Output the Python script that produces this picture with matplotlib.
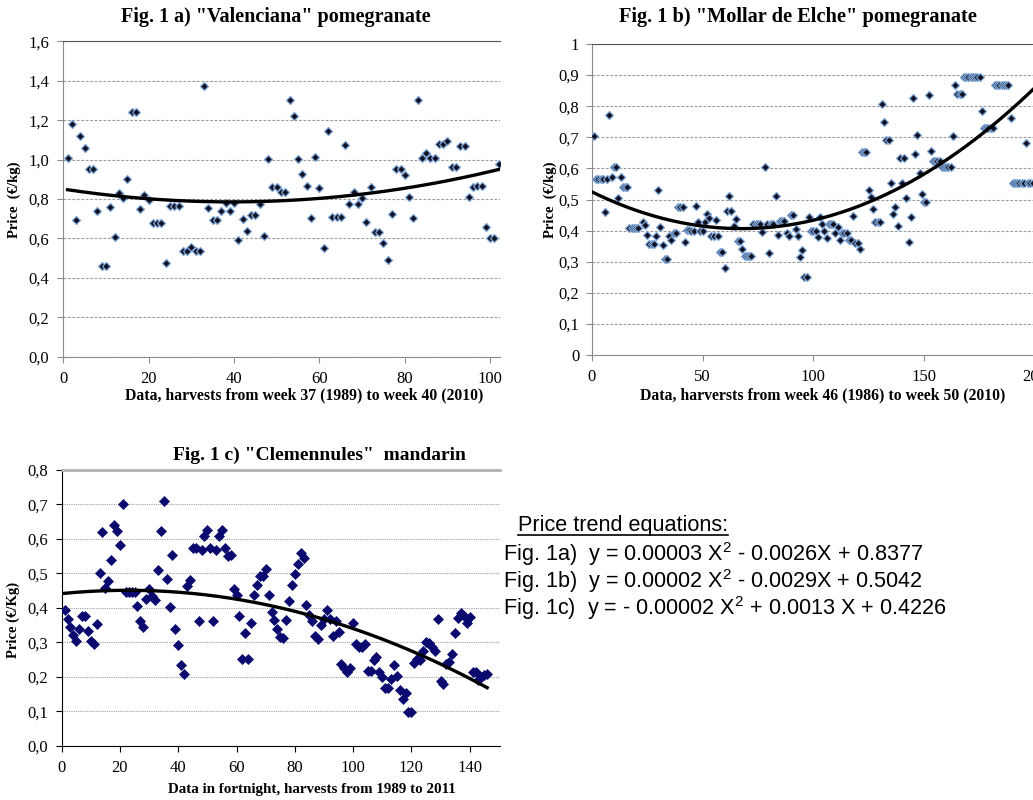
import numpy as np
import matplotlib
matplotlib.use('Agg')
import matplotlib.pyplot as plt
from matplotlib.lines import Line2D
from matplotlib.ticker import FuncFormatter

plt.rcParams['font.family'] = 'Liberation Serif'
plt.rcParams['mathtext.fontset'] = 'custom'
plt.rcParams['mathtext.rm'] = 'Liberation Sans'
plt.rcParams['mathtext.it'] = 'Liberation Sans'
plt.rcParams['mathtext.bf'] = 'Liberation Sans:bold'

### Fig 1a) "Valenciana" pomegranate, weeks 1..102
val_x = list(range(1, 103))
val_y = [1.010, 1.183, 0.694, 1.120, 1.059, 0.953, 0.953, 0.741, 0.460, 0.460,
         0.761, 0.609, 0.829, 0.804, 0.902, 1.239, 1.239, 0.750, 0.819, 0.795,
         0.679, 0.679, 0.679, 0.474, 0.766, 0.766, 0.766, 0.535, 0.535, 0.557,
         0.535, 0.535, 1.374, 0.753, 0.694, 0.694, 0.738, 0.780, 0.738, 0.780,
         0.592, 0.699, 0.636, 0.721, 0.721, 0.775, 0.614, 1.002, 0.860, 0.860,
         0.834, 0.834, 1.300, 1.220, 1.003, 0.926, 0.866, 0.702, 1.013, 0.854,
         0.550, 1.147, 0.709, 0.709, 0.709, 1.073, 0.777, 0.834, 0.777, 0.805,
         0.684, 0.863, 0.633, 0.633, 0.577, 0.491, 0.722, 0.951, 0.951, 0.922,
         0.810, 0.706, 1.303, 1.007, 1.034, 1.007, 1.007, 1.081, 1.081, 1.096,
         0.964, 0.964, 1.069, 1.069, 0.810, 0.863, 0.868, 0.868, 0.656, 0.604,
         0.604, 0.980]

### Fig 1b) "Mollar de Elche" pomegranate
mol_x = [1, 2, 3, 4, 5, 6, 7, 8, 9, 10, 11, 12, 13, 14, 15, 16, 17, 18, 19, 20,
         21, 23, 24, 25, 26, 27, 28, 29, 30, 31, 32, 33, 34, 35, 36, 37, 38, 39, 40, 41,
         42, 43, 44, 45, 46, 47, 48, 49, 50, 51, 52, 53, 54, 55, 56, 57, 58, 59, 60, 61,
         62, 63, 64, 65, 66, 67, 68, 69, 70, 71, 72, 73, 74, 75, 76, 77, 78, 79, 80, 81,
         82, 83, 84, 85, 86, 87, 88, 89, 90, 91, 92, 93, 94, 95, 96, 97, 98, 99, 100, 101,
         102, 103, 104, 105, 106, 107, 108, 109, 110, 111, 112, 113, 114, 115, 116, 117, 118, 119, 120, 121,
         122, 123, 124, 125, 126, 127, 128, 129, 130, 131, 132, 133, 134, 135, 136, 137, 138, 139, 140, 141,
         142, 143, 144, 145, 146, 147, 148, 149, 150, 151, 152, 153, 154, 155, 156, 157, 158, 159, 160, 161,
         162, 163, 164, 165, 166, 167, 168, 169, 170, 171, 172, 173, 174, 175, 176, 177, 178, 179, 180, 181,
         182, 183, 184, 185, 186, 187, 188, 189, 190, 191, 192, 193, 194, 195, 196, 197, 198, 199]
mol_y = [0.704, 0.567, 0.567, 0.567, 0.567, 0.461, 0.567, 0.773, 0.573, 0.605, 0.605, 0.505, 0.573, 0.540, 0.540, 0.540, 0.409, 0.409, 0.409, 0.409,
         0.409, 0.429, 0.417, 0.387, 0.357, 0.357, 0.357, 0.384, 0.529, 0.413, 0.355, 0.309, 0.309, 0.383, 0.369, 0.393, 0.393, 0.477, 0.477, 0.477,
         0.363, 0.403, 0.403, 0.399, 0.399, 0.479, 0.427, 0.399, 0.399, 0.428, 0.452, 0.439, 0.383, 0.383, 0.433, 0.383, 0.332, 0.332, 0.280, 0.464,
         0.512, 0.464, 0.415, 0.438, 0.365, 0.365, 0.341, 0.317, 0.317, 0.317, 0.317, 0.422, 0.422, 0.422, 0.422, 0.397, 0.606, 0.421, 0.329, 0.421,
         0.421, 0.512, 0.385, 0.430, 0.430, 0.430, 0.393, 0.384, 0.450, 0.450, 0.405, 0.382, 0.315, 0.338, 0.250, 0.250, 0.445, 0.399, 0.400, 0.400,
         0.378, 0.443, 0.420, 0.399, 0.375, 0.421, 0.421, 0.421, 0.391, 0.413, 0.370, 0.391, 0.391, 0.391, 0.370, 0.370, 0.446, 0.361, 0.361, 0.340,
         0.652, 0.652, 0.652, 0.531, 0.509, 0.468, 0.429, 0.429, 0.429, 0.807, 0.749, 0.690, 0.690, 0.552, 0.454, 0.475, 0.416, 0.633, 0.552, 0.633,
         0.506, 0.362, 0.444, 0.825, 0.647, 0.707, 0.585, 0.517, 0.493, 0.493, 0.835, 0.655, 0.625, 0.625, 0.625, 0.625, 0.603, 0.603, 0.603, 0.603,
         0.603, 0.703, 0.868, 0.840, 0.840, 0.840, 0.895, 0.895, 0.895, 0.895, 0.895, 0.895, 0.895, 0.895, 0.785, 0.729, 0.729, 0.729, 0.729, 0.729,
         0.869, 0.869, 0.869, 0.869, 0.869, 0.869, 0.869, 0.763, 0.552, 0.552, 0.552, 0.552, 0.552, 0.552, 0.681, 0.552, 0.552, 0.552]

### Fig 1c) "Clemennules" mandarin, fortnights 1..146
cle_x = list(range(1, 147))
cle_y = [0.393, 0.367, 0.343, 0.320, 0.305, 0.338, 0.375, 0.377, 0.332, 0.303,
         0.294, 0.354, 0.500, 0.620, 0.459, 0.479, 0.538, 0.639, 0.623, 0.583,
         0.702, 0.447, 0.447, 0.447, 0.447, 0.405, 0.361, 0.345, 0.426, 0.456,
         0.433, 0.423, 0.510, 0.622, 0.710, 0.483, 0.403, 0.552, 0.338, 0.292,
         0.234, 0.209, 0.462, 0.481, 0.574, 0.573, 0.362, 0.568, 0.609, 0.627,
         0.573, 0.362, 0.568, 0.609, 0.627, 0.573, 0.550, 0.553, 0.456, 0.437,
         0.376, 0.252, 0.326, 0.252, 0.355, 0.436, 0.467, 0.493, 0.493, 0.512,
         0.436, 0.389, 0.364, 0.338, 0.314, 0.312, 0.366, 0.421, 0.466, 0.498,
         0.527, 0.560, 0.544, 0.408, 0.378, 0.363, 0.317, 0.310, 0.349, 0.368,
         0.393, 0.367, 0.318, 0.363, 0.330, 0.236, 0.226, 0.215, 0.226, 0.355,
         0.295, 0.285, 0.285, 0.295, 0.218, 0.218, 0.249, 0.256, 0.213, 0.199,
         0.166, 0.166, 0.193, 0.233, 0.203, 0.162, 0.135, 0.154, 0.098, 0.098,
         0.241, 0.252, 0.249, 0.275, 0.300, 0.298, 0.287, 0.274, 0.367, 0.189,
         0.180, 0.238, 0.244, 0.267, 0.328, 0.371, 0.384, 0.376, 0.357, 0.373,
         0.213, 0.213, 0.192, 0.198, 0.204, 0.207]

equations = ['Fig. 1a)  y = 0.00003 X$^{2}$ - 0.0026X + 0.8377',
             'Fig. 1b)  y = 0.00002 X$^{2}$ - 0.0029X + 0.5042',
             'Fig. 1c)  y = - 0.00002 X$^{2}$ + 0.0013 X + 0.4226']


def comma_fmt(dec):
    def f(v, pos):
        if dec is None:
            s = ('%.1f' % v).rstrip('0').rstrip('.')
        else:
            s = '%.*f' % (dec, v)
        return s.replace('.', ',')
    return FuncFormatter(f)


def trend(ax, x, y, x0, x1):
    # 2nd order polynomial trendline like excel does
    c = np.polyfit(x, y, 2)
    xx = np.linspace(x0, x1, 200)
    ax.plot(xx, np.polyval(c, xx), color='black', lw=2.4, zorder=4, clip_on=True)


W, H = 1033, 800
fig = plt.figure(figsize=(W / 100, H / 100), dpi=100)

def px_axes(left, top, right, bottom):
    return fig.add_axes([left / W, 1 - bottom / H, (right - left) / W, (bottom - top) / H])

ax_a = px_axes(63.3, 41.3, 500, 356.7)
ax_b = px_axes(591.7, 44, 1034.9, 355)
ax_c = px_axes(61.7, 470, 500, 745.7)

gray = '#8c8c8c'
for ax in (ax_a, ax_b):
    ax.yaxis.grid(True, linestyle=(0, (2.5, 1.5)), color='#9a9a9a', lw=0.8)
    ax.set_axisbelow(True)
    ax.spines['right'].set_visible(False)
    ax.spines['top'].set_color('#555555')
    ax.spines['top'].set_linestyle((0, (2.5, 1)))
    ax.spines['left'].set_color(gray)
    ax.spines['bottom'].set_color(gray)
    ax.tick_params(axis='both', direction='out', length=4, color=gray, labelsize=12, pad=6)

ax_a.plot(val_x, val_y, ls='none', marker='D', ms=3.8, mfc='#111122', mec='#7ea6d8', mew=0.9, zorder=3)
trend(ax_a, val_x, val_y, min(val_x), max(val_x))
ax_a.set(xlim=(0, 102.3), ylim=(0, 1.6))
ax_a.set_xticks(np.arange(0, 101, 20))
ax_a.set_yticks(np.arange(0, 1.61, 0.2))
ax_a.yaxis.set_major_formatter(comma_fmt(1))

ax_b.plot(mol_x, mol_y, ls='none', marker='D', ms=3.8, mfc='#111122', mec='#7ea6d8', mew=0.9, zorder=3)
trend(ax_b, mol_x, mol_y, 0, 200)
ax_b.set(xlim=(0, 200), ylim=(0, 1.0))
ax_b.set_xticks(np.arange(0, 201, 50))
ax_b.set_yticks(np.arange(0, 1.01, 0.1))
ax_b.yaxis.set_major_formatter(comma_fmt(None))
ax_b.tick_params(axis='y', pad=5)

ax_c.yaxis.grid(True, linestyle=(0, (1, 1)), color='#a0a0a0', lw=0.8)
ax_c.set_axisbelow(True)
ax_c.spines['right'].set_visible(False)
ax_c.spines['top'].set_color('#b0b0b0')
ax_c.spines['top'].set_linewidth(2)
ax_c.tick_params(axis='both', direction='out', length=4, color='black', labelsize=12, pad=6)
ax_c.plot(cle_x, cle_y, ls='none', marker='D', ms=4.6, mfc='#0a0a6e', mec='#0a0a6e', mew=0.5, zorder=3)
trend(ax_c, cle_x, cle_y, min(cle_x), max(cle_x))
ax_c.set(xlim=(0, 150.4), ylim=(0, 0.8))
ax_c.set_xticks(np.arange(0, 141, 20))
ax_c.set_yticks(np.arange(0, 0.81, 0.1))
ax_c.yaxis.set_major_formatter(comma_fmt(1))

### titles and axis labels placed in pixels
def ftxt(x, y, s, **kw):
    return fig.text(x / W, 1 - y / H, s, **kw)

tkw = dict(ha='center', va='center', weight='bold')
ftxt(276, 17, 'Fig. 1 a) "Valenciana" pomegranate', size=14.5, **tkw)
ftxt(798, 17, 'Fig. 1 b) "Mollar de Elche" pomegranate', size=14.7, **tkw)
ftxt(319, 455, 'Fig. 1 c) "Clemennules"  mandarin', size=14, **tkw)

lkw = dict(ha='center', va='center', weight='bold')
ftxt(304, 395, 'Data, harvests from week 37 (1989) to week 40 (2010)', size=11.3, **lkw)
ftxt(823, 395, 'Data, harversts from week 46 (1986) to week 50 (2010)', size=11.3, **lkw)
ftxt(312, 789, 'Data in fortnight, harvests from 1989 to 2011', size=10.8, **lkw)

ykw = dict(ha='center', va='center', weight='bold', size=10.5, rotation=90)
ftxt(14, 200, 'Price  (€/kg)', **ykw)
ftxt(550, 200, 'Price  (€/kg)', **ykw)
ftxt(13, 620, 'Price (€/Kg)', **ykw)

### equations block
ekw = dict(ha='left', va='center', size=15.6, family='Liberation Sans')
head = ftxt(518, 525, 'Price trend equations:', **ekw)
for i, eq in enumerate(equations):
    ftxt(503, 554 + 27 * i, eq, **ekw)

fig.canvas.draw()
bb = head.get_window_extent(fig.canvas.get_renderer())
yline = bb.y0 + 1
fig.add_artist(Line2D([bb.x0 / W, bb.x1 / W], [yline / H, yline / H], color='black', lw=1.2))

fig.savefig('out.png', dpi=100)
